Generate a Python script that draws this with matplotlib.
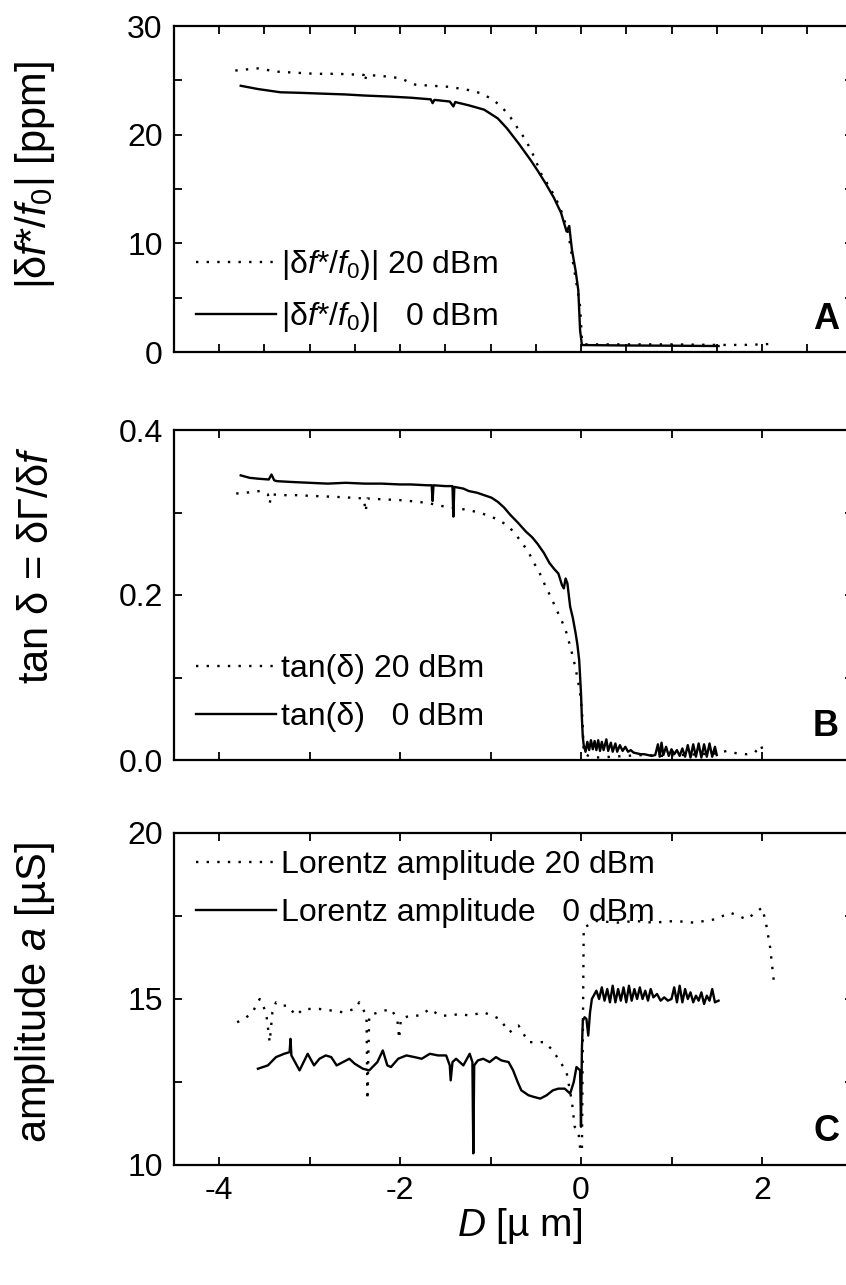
import matplotlib
matplotlib.use('Agg')
import matplotlib.pyplot as plt
from matplotlib.ticker import MultipleLocator, FormatStrFormatter

plt.rcParams['font.family'] = ['Liberation Sans', 'DejaVu Sans']
plt.rcParams['mathtext.fontset'] = 'custom'
plt.rcParams['mathtext.rm'] = 'Liberation Sans'
plt.rcParams['mathtext.it'] = 'Liberation Sans:italic'
plt.rcParams['mathtext.bf'] = 'Liberation Sans:bold'
plt.rcParams['axes.unicode_minus'] = False

# ---------------- Panel A: |delta f*/f0| [ppm] ----------------
a20_x = [-3.82, -3.70, -3.57, -3.36, -3.15, -2.94, -2.70, -2.40, -2.39, -2.37, -2.20, -2.00,
         -1.83, -1.65, -1.45, -1.24, -1.10, -0.97, -0.87, -0.78, -0.70, -0.61, -0.52, -0.44,
         -0.35, -0.27, -0.20, -0.14, -0.08, -0.04, -0.01, 0.01, 0.03, 0.5, 1.0, 1.5, 1.8,
         2.0, 2.1, 2.15]
a20_y = [25.9, 26.0, 26.1, 25.8, 25.7, 25.6, 25.6, 25.5, 24.9, 25.5, 25.4, 25.2,
         24.6, 24.5, 24.4, 24.1, 23.8, 23.2, 22.5, 21.6, 20.6, 19.5, 18.0, 16.4,
         15.2, 14.0, 12.6, 10.9, 7.8, 5.8, 4.2, 1.1, 0.7, 0.7, 0.7, 0.65, 0.65,
         0.7, 0.75, 1.0]
a0_x = [-3.76, -3.57, -3.32, -3.10, -2.94, -2.60, -2.39, -2.10, -1.88, -1.66, -1.64, -1.62,
        -1.45, -1.41, -1.39, -1.24, -1.07, -0.92, -0.82, -0.69, -0.56, -0.48, -0.39, -0.30,
        -0.22, -0.16, -0.13, -0.10, -0.06, -0.03, -0.01, 0.01, 0.5, 1.0, 1.52]
a0_y = [24.5, 24.2, 23.9, 23.85, 23.8, 23.7, 23.6, 23.5, 23.4, 23.25, 22.9, 23.2,
        23.05, 22.6, 23.0, 22.7, 22.3, 21.5, 20.6, 19.2, 17.7, 16.7, 15.5, 14.2,
        12.8, 11.1, 11.6, 9.4, 7.5, 5.7, 2.0, 0.64, 0.6, 0.58, 0.55]

# ---------------- Panel B: tan delta ----------------
b20_x = [-3.81, -3.70, -3.55, -3.46, -3.44, -3.42, -3.30, -3.15, -2.95, -2.72, -2.55, -2.40,
         -2.38, -2.36, -2.20, -2.00, -1.80, -1.67, -1.50, -1.37, -1.24, -1.10, -0.99, -0.90,
         -0.82, -0.74, -0.65, -0.58, -0.52, -0.45, -0.39, -0.33, -0.27, -0.21, -0.16, -0.12,
         -0.08, -0.04, -0.01, 0.01, 0.02, 0.03, 0.1, 0.2, 0.35, 0.5, 0.7, 0.9, 1.1, 1.3, 1.5,
         1.61, 1.72, 1.83, 1.92, 1.99, 2.01, 2.03]
b20_y = [0.323, 0.324, 0.326, 0.322, 0.311, 0.322, 0.321, 0.321, 0.320, 0.319, 0.318, 0.317,
         0.301, 0.317, 0.316, 0.315, 0.313, 0.311, 0.307, 0.305, 0.303, 0.299, 0.295, 0.290,
         0.285, 0.276, 0.263, 0.252, 0.239, 0.225, 0.210, 0.197, 0.182, 0.168, 0.154, 0.138,
         0.121, 0.100, 0.081, 0.060, 0.040, 0.008, 0.004, 0.003, 0.004, 0.005, 0.006, 0.005,
         0.006, 0.007, 0.008, 0.011, 0.008, 0.007, 0.009, 0.018, 0.010, 0.007]
b0_x = [-3.76, -3.66, -3.57, -3.45, -3.42, -3.39, -3.36, -3.20, -3.00, -2.80, -2.60, -2.39,
        -2.20, -2.00, -1.88, -1.70, -1.65, -1.64, -1.63, -1.50, -1.42, -1.41, -1.40, -1.30,
        -1.24, -1.15, -1.07, -0.99, -0.92, -0.85, -0.78, -0.70, -0.61, -0.54, -0.48, -0.41,
        -0.35, -0.30, -0.25, -0.21, -0.19, -0.17, -0.15, -0.12, -0.09, -0.06, -0.04, -0.02,
        0.00, 0.01, 0.02,
        0.03, 0.05, 0.07, 0.09, 0.11, 0.13, 0.15, 0.17, 0.19, 0.21, 0.23, 0.25, 0.28, 0.30,
        0.33, 0.35, 0.38, 0.40, 0.43, 0.46, 0.49, 0.52, 0.55, 0.58, 0.62, 0.66, 0.70, 0.74,
        0.78, 0.82, 0.85, 0.87, 0.89, 0.91, 0.94, 0.97, 1.00, 1.03, 1.06, 1.09, 1.12, 1.15,
        1.18, 1.21, 1.24, 1.27, 1.30, 1.33, 1.36, 1.39, 1.42, 1.45, 1.48, 1.50]
b0_y = [0.345, 0.342, 0.341, 0.340, 0.346, 0.339, 0.338, 0.337, 0.336, 0.335, 0.336, 0.335,
        0.335, 0.334, 0.334, 0.333, 0.333, 0.314, 0.333, 0.332, 0.332, 0.295, 0.331, 0.329,
        0.326, 0.324, 0.321, 0.318, 0.313, 0.306, 0.297, 0.288, 0.277, 0.270, 0.262, 0.251,
        0.239, 0.232, 0.226, 0.212, 0.208, 0.220, 0.214, 0.186, 0.172, 0.154, 0.140, 0.121,
        0.081, 0.050, 0.028,
        0.018, 0.010, 0.022, 0.012, 0.024, 0.013, 0.023, 0.012, 0.024, 0.011, 0.022, 0.012,
        0.025, 0.011, 0.021, 0.010, 0.020, 0.010, 0.018, 0.011, 0.016, 0.010, 0.012, 0.009,
        0.008, 0.007, 0.007, 0.006, 0.005, 0.006, 0.019, 0.004, 0.021, 0.006, 0.016, 0.005,
        0.013, 0.007, 0.012, 0.005, 0.014, 0.004, 0.018, 0.003, 0.019, 0.004, 0.020, 0.003,
        0.019, 0.004, 0.020, 0.004, 0.016, 0.006]

# ---------------- Panel C: Lorentz amplitude ----------------
c20_x = [-3.80, -3.72, -3.63, -3.55, -3.48, -3.44, -3.41, -3.37, -3.30, -3.24, -3.15, -3.07,
         -2.89, -2.75, -2.63, -2.50, -2.45, -2.39, -2.37, -2.36, -2.34, -2.24, -2.10, -2.03,
         -2.01, -1.99, -1.89, -1.78, -1.67, -1.56, -1.45, -1.34, -1.23, -1.08, -0.98, -0.90,
         -0.79, -0.69, -0.58, -0.49, -0.40, -0.33, -0.25, -0.16, -0.10, -0.07, -0.03, -0.01,
         0.01, 0.03, 0.17, 0.40, 0.60, 0.80, 1.04, 1.25, 1.48, 1.65, 1.83, 2.00, 2.04, 2.09,
         2.13]
c20_y = [14.3, 14.4, 14.6, 15.0, 14.6, 13.7, 14.6, 14.9, 14.8, 14.8, 14.5, 14.7,
         14.7, 14.65, 14.6, 14.7, 14.9, 14.6, 14.5, 11.96, 14.5, 14.6, 14.7, 14.4,
         13.8, 14.4, 14.5, 14.5, 14.7, 14.5, 14.5, 14.55, 14.5, 14.6, 14.5, 14.4,
         14.0, 14.2, 13.7, 13.7, 13.7, 13.5, 13.2, 12.8, 11.9, 11.15, 11.05, 10.5,
         10.4, 17.15, 17.35, 17.3, 17.35, 17.3, 17.35, 17.3, 17.4, 17.6, 17.4, 17.75, 17.35,
         16.55, 15.55]
c0_x = [-3.57, -3.46, -3.37, -3.28, -3.22, -3.21, -3.20, -3.17, -3.11, -3.02, -2.95, -2.89,
        -2.82, -2.76, -2.70, -2.63, -2.56, -2.50, -2.41, -2.34, -2.25, -2.19, -2.14, -2.10,
        -2.02, -1.93, -1.84, -1.76, -1.67, -1.58, -1.49, -1.45, -1.44, -1.42, -1.38, -1.30,
        -1.23, -1.20, -1.19, -1.18, -1.14, -1.08, -1.01, -0.94, -0.88, -0.80, -0.75, -0.70,
        -0.66, -0.58, -0.52, -0.45, -0.38, -0.31, -0.25, -0.18, -0.12, -0.08, -0.05, -0.01,
        0.00, 0.01, 0.02, 0.04, 0.06, 0.08, 0.10, 0.12, 0.17,
        0.20, 0.23, 0.26, 0.29, 0.32, 0.35, 0.38, 0.41, 0.44, 0.47, 0.50, 0.53, 0.56, 0.59,
        0.62, 0.65, 0.68, 0.71, 0.74, 0.77, 0.80, 0.84, 0.88, 0.92, 0.96, 1.00, 1.03, 1.06,
        1.09, 1.12, 1.15, 1.18, 1.21, 1.24, 1.27, 1.30, 1.33, 1.36, 1.39, 1.42, 1.45, 1.48,
        1.52]
c0_y = [12.9, 13.0, 13.25, 13.35, 13.4, 13.8, 13.3, 13.15, 12.85, 13.35, 13.0, 13.2,
        13.3, 13.25, 13.0, 13.1, 13.2, 13.05, 12.9, 12.85, 13.1, 13.45, 13.0, 12.95,
        13.2, 13.3, 13.25, 13.2, 13.35, 13.3, 13.3, 13.0, 12.55, 13.1, 13.2, 13.0,
        13.35, 13.1, 10.35, 13.0, 13.15, 13.2, 13.1, 13.25, 13.15, 13.1, 12.85, 12.5,
        12.25, 12.1, 12.05, 12.0, 12.1, 12.25, 12.3, 12.3, 12.15, 12.5, 12.95, 12.85,
        11.15, 13.5, 14.35, 14.45, 14.4, 13.9, 14.6, 15.0, 15.25,
        15.0, 15.35, 14.95, 15.3, 14.9, 15.4, 14.9, 15.3, 14.95, 15.35, 14.9, 15.4, 14.95, 15.3,
        15.0, 15.35, 15.0, 15.25, 14.95, 15.3, 15.05, 15.15, 14.95, 15.05, 14.95, 15.0, 15.35,
        14.9, 15.4, 14.9, 15.3, 15.0, 15.2, 14.9, 15.1, 14.95, 15.2, 14.85, 15.1, 14.95, 15.3,
        14.9, 14.95]

labels_A = [r'|δ$f$*/$f_0$)| 20 dBm', r'|δ$f$*/$f_0$)|   0 dBm']
labels_B = ['tan(δ) 20 dBm', 'tan(δ)   0 dBm']
labels_C = ['Lorentz amplitude 20 dBm', 'Lorentz amplitude   0 dBm']

W, H = 846, 1285
fig = plt.figure(figsize=(W / 100, H / 100), dpi=100)
left = 173.75 / W
width = 678.75 / W

def axpos(top_px, bot_px):
    return [left, 1 - bot_px / H, width, (bot_px - top_px) / H]

axA = fig.add_axes(axpos(26, 352))
axB = fig.add_axes(axpos(430, 760))
axC = fig.add_axes(axpos(833, 1165))

dot = (0, (1, 3.5))
lw = 1.7

for ax in (axA, axB, axC):
    ax.set_xlim(-4.5, 3)
    for s in ax.spines.values():
        s.set_linewidth(1.6)
    ax.tick_params(which='both', direction='in', top=True, right=True,
                   length=6, width=1.3, labelsize=23, pad=8)

# Panel A
axA.plot(a20_x, a20_y, color='black', lw=lw, linestyle=dot, label=labels_A[0])
axA.plot(a0_x, a0_y, color='black', lw=lw, linestyle='-', label=labels_A[1])
axA.set_ylim(0, 30)
axA.xaxis.set_major_locator(MultipleLocator(1))
axA.xaxis.set_minor_locator(MultipleLocator(0.5))
axA.yaxis.set_major_locator(MultipleLocator(10))
axA.yaxis.set_minor_locator(MultipleLocator(5))
axA.tick_params(axis='x', labelbottom=False)
axA.set_ylabel(r'|δ$f$*/$f_0$| [ppm]', fontsize=30)
axA.yaxis.set_label_coords(-0.172, 0.543)

# Panel B
axB.plot(b20_x, b20_y, color='black', lw=lw, linestyle=dot, label=labels_B[0])
axB.plot(b0_x, b0_y, color='black', lw=lw, linestyle='-', label=labels_B[1])
axB.set_ylim(0, 0.4)
axB.xaxis.set_major_locator(MultipleLocator(1))
axB.yaxis.set_major_locator(MultipleLocator(0.2))
axB.yaxis.set_minor_locator(MultipleLocator(0.1))
axB.yaxis.set_major_formatter(FormatStrFormatter('%.1f'))
axB.tick_params(axis='x', labelbottom=False)
axB.set_ylabel(r'tan δ = δΓ/δ$f$', fontsize=30)
axB.yaxis.set_label_coords(-0.172, 0.59)

# Panel C
axC.plot(c20_x, c20_y, color='black', lw=lw, linestyle=dot, label=labels_C[0])
axC.plot(c0_x, c0_y, color='black', lw=lw, linestyle='-', label=labels_C[1])
axC.set_ylim(10, 20)
axC.xaxis.set_major_locator(MultipleLocator(2))
axC.xaxis.set_minor_locator(MultipleLocator(1))
axC.yaxis.set_major_locator(MultipleLocator(5))
axC.yaxis.set_minor_locator(MultipleLocator(2.5))
axC.set_ylabel(r'amplitude $a$ [µS]', fontsize=30)
axC.yaxis.set_label_coords(-0.172, 0.518)
axC.set_xlabel(r'$D$ [µ m]', fontsize=28)
axC.xaxis.set_label_coords(0.51, -0.125)

for ax, yc in ((axA, 0.187), (axB, 0.203), (axC, 0.831)):
    ax.legend(loc='center left', bbox_to_anchor=(0.033, yc), frameon=False,
              fontsize=23, handlelength=2.5, handletextpad=0.15,
              labelspacing=0.55, borderpad=0, borderaxespad=0)

for ax, letter in ((axA, 'A'), (axB, 'B'), (axC, 'C')):
    ax.text(0.961, 0.1, letter, transform=ax.transAxes, ha='center', va='center',
            fontsize=26, fontweight='bold')

fig.savefig('out.png', dpi=100)
